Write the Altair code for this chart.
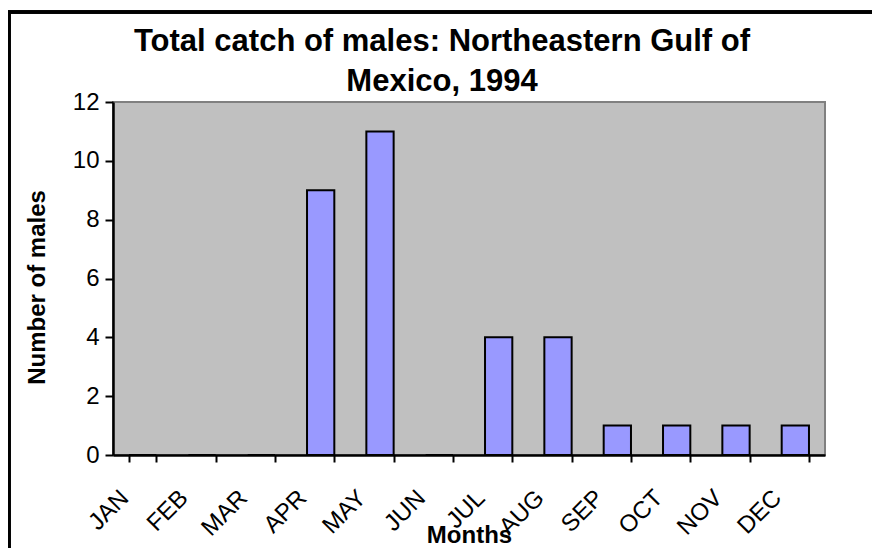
import altair as alt
import pandas as pd

months = ["JAN", "FEB", "MAR", "APR", "MAY", "JUN", "JUL", "AUG", "SEP", "OCT", "NOV", "DEC"]
males = [0, 0, 0, 9, 11, 0, 4, 4, 1, 1, 1, 1]
title_lines = ["Total catch of males: Northeastern Gulf of", "Mexico, 1994"]

df = pd.DataFrame({"month": months, "males": males})

W, H = 712, 353
FONT = "Liberation Sans"

bars = alt.Chart(df).mark_bar(
    fill="#9999FF", stroke="black", strokeWidth=2
).encode(
    x=alt.X("month:N", sort=months,
            scale=alt.Scale(paddingInner=0.54, paddingOuter=0.27),
            axis=alt.Axis(
                title="Months", titleFont=FONT, titleFontSize=24, titleFontWeight="bold",
                titleColor="black", titleY=87, titleX=W / 2, titleBaseline="alphabetic",
                labelAngle=-45, labelAlign="right", labelBaseline="middle",
                labelFont=FONT, labelFontSize=24, labelColor="black",
                labelOffset=-18, labelPadding=32,
                tickBand="extent", tickSize=7, tickWidth=2, tickColor="black",
                domainColor="black", domainWidth=2.5,
            )),
    y=alt.Y("males:Q",
            scale=alt.Scale(domain=[0, 12], nice=False),
            axis=alt.Axis(
                title="Number of males", titleFont=FONT, titleFontSize=24, titleFontWeight="bold",
                titleColor="black", titleX=-76, titleY=185, titleAngle=-90,
                titleAlign="center", titleBaseline="middle",
                values=[0, 2, 4, 6, 8, 10, 12], grid=False,
                labelFont=FONT, labelFontSize=24, labelColor="black", labelPadding=6,
                tickSize=8, tickWidth=2, tickColor="black",
                domainColor="black", domainWidth=2.5,
            )),
)

border = alt.Chart(df).mark_rect(
    filled=False, stroke="black", strokeWidth=2.5, clip=False
).encode(
    x=alt.value(-104), x2=alt.value(W + 80), y=alt.value(-90), y2=alt.value(H + 200)
)

title = alt.Chart(pd.DataFrame({"k": [0]})).mark_text(
    text=title_lines, font=FONT, fontSize=31, fontWeight="bold", color="black",
    lineHeight=40, align="center", baseline="top", clip=False
).encode(
    x=alt.value(329), y=alt.value(-75)
)

chart = alt.layer(border, bars, title).properties(
    width=W, height=H,
    autosize=alt.AutoSizeParams(type="none"),
    padding={"left": 105, "top": 94, "right": 47, "bottom": 93},
    background="white",
).configure_view(
    fill="#C0C0C0", stroke="#808080", strokeWidth=2
)

chart.save("out.html", embed_options={"renderer": "svg", "actions": False})
